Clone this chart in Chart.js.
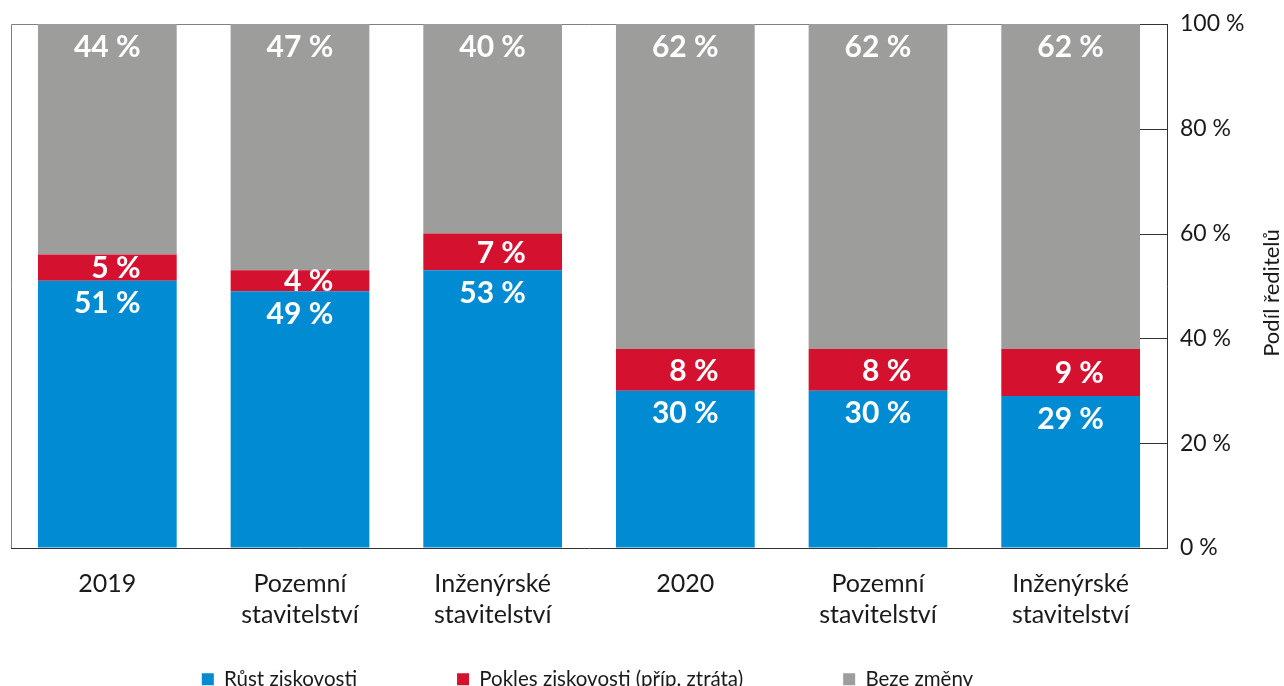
<!DOCTYPE html>
<html lang="cs">
<head>
    <meta charset="UTF-8">
    <title>Ziskovost firem</title>
    <script src="https://cdn.jsdelivr.net/npm/chart.js"></script>
    <style>
        html, body { margin: 0; padding: 0; background: #fff; }
        #chartContainer { width: 1284px; height: 686px; }
    </style>
</head>
<body>
    <div id="chartContainer">
        <canvas id="profitChart"></canvas>
    </div>

    <script>
        // Data
        var categories = [
            ['2019'],
            ['Pozemní', 'stavitelství'],
            ['Inženýrské', 'stavitelství'],
            ['2020'],
            ['Pozemní', 'stavitelství'],
            ['Inženýrské', 'stavitelství']
        ];
        var growth = [51, 49, 53, 30, 30, 29];
        var decline = [5, 4, 7, 8, 8, 9];
        var noChange = [44, 47, 40, 62, 62, 62];
        var yTicks = [0, 20, 40, 60, 80, 100];
        var seriesNames = ['Růst ziskovosti', 'Pokles ziskovosti (příp. ztráta)', 'Beze změny'];
        var seriesColors = ['#008bd2', '#d51130', '#9d9d9c'];
        var axisTitle = 'Podíl ředitelů';

        var FONT = "Lato, 'Noto Sans', sans-serif";
        var TEXT = '#1a1a1a';

        // white value labels inside the bars
        var valueLabels = {
            id: 'valueLabels',
            afterDatasetsDraw: function(chart) {
                var ctx = chart.ctx;
                ctx.save();
                ctx.font = 'bold 30px ' + FONT;
                ctx.fillStyle = '#fff';
                ctx.textAlign = 'right';
                ctx.textBaseline = 'middle';
                chart.data.datasets.forEach(function(ds, i) {
                    chart.getDatasetMeta(i).data.forEach(function(bar, j) {
                        var y = (i === 1) ? (bar.y + bar.base) / 2 + 1 : bar.y + 23;
                        ctx.fillText(ds.data[j] + ' %', bar.x + bar.width * 0.24, y);
                    });
                });
                ctx.restore();
            }
        };

        // frame lines, inner ticks on the right axis and the axis title
        var frame = {
            id: 'frame',
            beforeDatasetsDraw: function(chart) {
                var ctx = chart.ctx, a = chart.chartArea;
                ctx.save();
                ctx.strokeStyle = '#808080';
                ctx.lineWidth = 1;
                ctx.beginPath();
                ctx.moveTo(a.left + 0.5, a.bottom);
                ctx.lineTo(a.left + 0.5, a.top + 0.5);
                ctx.lineTo(a.right, a.top + 0.5);
                ctx.stroke();
                ctx.restore();
            },
            afterDraw: function(chart) {
                var ctx = chart.ctx, a = chart.chartArea, y = chart.scales.y;
                ctx.save();
                ctx.strokeStyle = '#333';
                ctx.lineWidth = 1;
                yTicks.forEach(function(v) {
                    var py = Math.round(y.getPixelForValue(v)) + 0.5;
                    ctx.beginPath();
                    ctx.moveTo(a.right - 27, py);
                    ctx.lineTo(a.right, py);
                    ctx.stroke();
                });
                ctx.translate(chart.width - 12, (a.top + a.bottom) / 2 + 7);
                ctx.rotate(-Math.PI / 2);
                ctx.font = '22px ' + FONT;
                ctx.fillStyle = TEXT;
                ctx.textAlign = 'center';
                ctx.textBaseline = 'middle';
                ctx.fillText(axisTitle, 0, 0);
                ctx.restore();
            }
        };

        // the legend keeps a small box in the layout; move its row down to the bottom edge
        var legendPlace = {
            id: 'legendPlace',
            afterLayout: function(chart) {
                var lg = chart.legend;
                var pad = lg.options.labels.padding;
                var dy = 679 - (lg.top + pad + 10);
                lg.top += dy;
                lg.bottom = chart.height + 20;
                lg.left -= 60; lg.right -= 60;
            }
        };

        var ctx = document.getElementById('profitChart').getContext('2d');
        var profitChart = new Chart(ctx, {
            type: 'bar',
            data: {
                labels: categories,
                datasets: [
                    { label: seriesNames[0], data: growth, backgroundColor: seriesColors[0] },
                    { label: seriesNames[1], data: decline, backgroundColor: seriesColors[1] },
                    { label: seriesNames[2], data: noChange, backgroundColor: seriesColors[2] }
                ]
            },
            options: {
                responsive: true,
                maintainAspectRatio: false,
                animation: false,
                datasets: {
                    bar: { categoryPercentage: 1, barPercentage: 0.72, borderWidth: 0 }
                },
                layout: { padding: { left: 11, top: 24, right: 0, bottom: 0 } },
                scales: {
                    x: {
                        stacked: true,
                        grid: { display: false, drawTicks: false },
                        border: { display: true, color: '#333', width: 1 },
                        ticks: {
                            color: TEXT,
                            font: { family: FONT, size: 25, lineHeight: 1.24 },
                            padding: 20,
                            maxRotation: 0,
                            autoSkip: false
                        },
                        afterFit: function(scale) { scale.height = 98; }
                    },
                    y: {
                        stacked: true,
                        position: 'right',
                        min: 0,
                        max: 100,
                        grid: { display: true, drawOnChartArea: false, drawTicks: true, tickLength: 5, tickColor: 'rgba(0,0,0,0)' },
                        border: { display: true, color: '#333', width: 1 },
                        afterBuildTicks: function(scale) {
                            scale.ticks = yTicks.map(function(v) { return { value: v }; });
                        },
                        ticks: {
                            color: TEXT,
                            font: { family: FONT, size: 23 },
                            padding: 8,
                            callback: function(v) { return v + ' %'; }
                        },
                        afterFit: function(scale) { scale.width = 117; }
                    }
                },
                plugins: {
                    legend: {
                        position: 'bottom',
                        maxHeight: 40,
                        labels: {
                            color: TEXT,
                            font: { family: FONT, size: 20.5 },
                            boxWidth: 12,
                            boxHeight: 12,
                            padding: 100
                        }
                    },
                    tooltip: { enabled: false }
                }
            },
            plugins: [valueLabels, frame, legendPlace]
        });
    </script>
</body>
</html>
